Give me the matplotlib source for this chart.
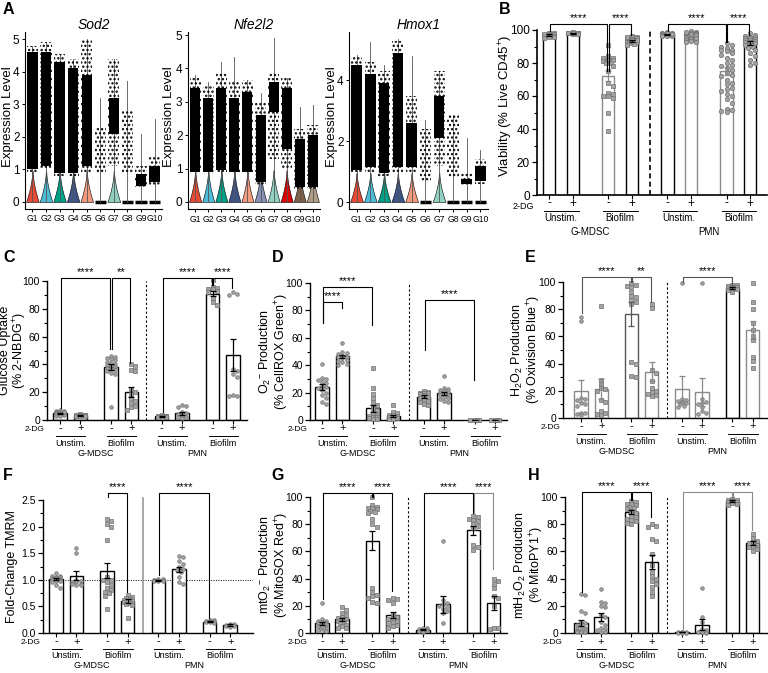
import numpy as np
import matplotlib
matplotlib.use('Agg')
import matplotlib.pyplot as plt
from matplotlib.patches import Rectangle

plt.rcParams['font.family'] = ['Liberation Sans', 'DejaVu Sans']
plt.rcParams['mathtext.fontset'] = 'custom'
plt.rcParams['mathtext.rm'] = 'Liberation Sans'
plt.rcParams['mathtext.it'] = 'Liberation Sans:italic'
plt.rcParams['mathtext.bf'] = 'Liberation Sans:bold'
plt.rcParams['hatch.linewidth'] = 1.1

W, H = 768, 673

# ---------------- panel A data (violin plots) ----------------
groups = ['G1', 'G2', 'G3', 'G4', 'G5', 'G6', 'G7', 'G8', 'G9', 'G10']
npg = ['#E64B35', '#4DBBD5', '#00A087', '#3C5488', '#F39B7F',
       '#8491B4', '#91D1C2', '#DC0000', '#7E6148', '#B09C85']

# dense part of the dot cloud (lo, hi), sparse part (lo, hi), max value, has a coloured base
sod2_dense = [(1.0, 4.6), (1.1, 4.6), (0.9, 4.3), (0.9, 4.1), (1.1, 3.9),
              None, (2.1, 3.2), None, (0.5, 0.85), (0.6, 1.1)]
sod2_sparse = [(0.9, 4.8), (1.0, 4.9), (0.8, 4.55), (0.8, 4.4), (0.9, 5.0),
               (0.9, 2.3), (1.1, 4.4), (0.9, 2.8), (0.45, 1.1), (0.5, 1.4)]
sod2_max = [4.8, 4.9, 4.55, 4.4, 5.0, 3.2, 4.4, 3.7, 2.1, 2.55]
sod2_base = [1, 1, 1, 1, 1, 0, 1, 0, 0, 0]

nfe_dense = [(0.9, 3.4), (0.9, 3.1), (0.95, 3.4), (0.9, 3.1), (0.9, 3.3),
             (0.6, 2.6), (2.7, 3.6), (1.6, 3.4), (0.45, 1.9), (0.45, 2.0)]
nfe_sparse = [(0.85, 3.75), (0.85, 3.5), (0.9, 3.9), (0.85, 3.6), (0.85, 3.65),
              (0.5, 3.0), (1.3, 3.9), (1.0, 3.7), (0.4, 2.2), (0.4, 2.3)]
nfe_max = [3.8, 3.6, 4.2, 4.35, 3.65, 3.25, 4.9, 3.7, 2.85, 2.9]
nfe_base = [1, 1, 1, 1, 1, 1, 1, 1, 1, 1]

hmox_dense = [(1.05, 4.5), (1.15, 4.2), (0.95, 3.9), (1.15, 4.9), (1.15, 2.6),
              None, (2.1, 3.5), None, (0.6, 0.75), (0.7, 1.2)]
hmox_sparse = [(0.95, 4.8), (1.0, 4.6), (0.85, 4.3), (1.0, 5.3), (1.0, 3.5),
               (0.7, 2.4), (1.2, 4.3), (0.8, 2.9), (0.55, 1.0), (0.6, 1.4)]
hmox_max = [4.85, 5.25, 4.5, 5.35, 4.8, 2.7, 4.3, 2.85, 2.1, 1.7]
hmox_base = [1, 1, 1, 1, 1, 0, 1, 0, 0, 0]

# ---------------- panels B-H data (bar + dot plots) ----------------
pos = [0, 1, 2.5, 3.5, 5, 6, 7.5, 8.5]
signs = ['-', '+', '-', '+', '-', '+', '-', '+']
stim_labels = ['Unstim.', 'Biofilm', 'Unstim.', 'Biofilm']
cell_labels = ['G-MDSC', 'PMN']

b_mean = [97, 98, 72, 93.5, 97.5, 96.5, 75, 92]
b_sem = [0.4, 0.2, 3.0, 0.5, 0.3, 0.4, 2.3, 1.2]
b_pts = [
    [98.2, 98, 97.6, 97.3, 97, 96.8, 96.5, 96.2, 96, 95.6, 95.2, 97.8],
    [98.6, 98.4, 98.2, 98, 97.9, 97.7, 97.5, 98.1],
    [91, 84, 83, 83, 82, 82, 81, 80, 80, 78, 75, 68, 66, 62, 61, 60, 60, 59, 50, 39],
    [96.5, 96, 95.5, 95, 95, 94.5, 94, 94, 93.5, 93, 93, 92.5, 92, 91.5, 91, 95.8, 94.2],
    [98.6, 98.2, 98, 97.8, 97.6, 97.4, 97.2, 97, 96.8, 96.6, 96.4, 96.2, 97.9, 97.3],
    [99.2, 98.8, 98.4, 98, 97.8, 97.5, 97.2, 97, 96.6, 96.3, 96, 95.7, 95.4, 95,
     94.6, 94.2, 93.8, 93.4, 93, 92.6, 98.6, 97.6, 96.8, 95.2],
    [92, 91, 90, 89, 88, 88, 87, 86, 85, 83, 82, 80, 79, 78, 77, 76, 74, 73, 72, 70,
     68, 67, 65, 64, 63, 61, 60, 58, 56, 52, 51.5, 51, 50.5],
    [98, 97.2, 96.5, 96, 95.8, 95.4, 95, 94.6, 94.2, 93.8, 93.4, 93, 92.5, 92, 91,
     90, 89, 88, 86, 84, 82, 80, 79],
]

c_mean = [4.8, 3.3, 38, 20, 2.7, 4.8, 91, 47]
c_sem = [0.4, 0.2, 2.2, 3.5, 0.3, 1.1, 2.0, 11.5]
c_pts = [
    [7, 6.5, 6.2, 6, 5.5, 5.2, 5, 4.8, 4.5, 4.2, 4, 3.8, 3.5, 3.2, 3, 5.8],
    [4, 3.8, 3.6, 3.4, 3.3, 3.1, 3, 2.8, 2.6],
    [46, 45, 44.5, 44, 43, 42, 41, 40, 39.5, 39, 38, 37.5, 37, 36, 35, 34, 33, 9],
    [40, 39, 36, 35, 22, 20, 19, 16, 14, 12, 10, 9, 7.5],
    [3.5, 3.2, 3, 2.8, 2.6, 2.3, 2.1, 1.9],
    [10.5, 10, 9.5, 6, 5, 4, 3, 2.5, 2, 1.5],
    [101, 96, 95, 94.5, 94, 93, 92, 88, 85, 83],
    [92, 91, 90, 37, 35, 33, 31, 18, 17.5, 17],
]

d_mean = [24, 46.5, 8.5, 3, 17, 19.5, 0.2, 0.2]
d_sem = [2.4, 1.2, 2.8, 1.0, 0.9, 1.2, 0.05, 0.05]
d_pts = [
    [41, 31, 30, 29, 28, 27, 25, 24, 23, 22, 20, 18, 16, 13, 12],
    [56, 50, 49, 48, 47, 46, 46, 45, 44, 43, 42, 41, 40],
    [38, 23, 19, 16, 13, 11, 9, 7, 5, 4, 3, 2.5, 2, 1.5, 1, 0.5],
    [11, 6, 5, 4, 3.5, 3, 2.5, 2, 1.5, 1, 0.5],
    [21, 20.5, 20, 20, 19.5, 19, 18, 17, 16, 15, 14, 13, 12, 11],
    [32, 23, 22.5, 22, 21, 20.5, 20, 19, 18.5, 18, 17, 16, 15, 14, 13],
    [0.3, 0.2, 0.2, 0.1],
    [0.3, 0.2, 0.2, 0.1],
]

e_mean = [20, 21.5, 76.5, 34, 21, 19, 95.5, 64.5]
e_sem = [8, 7.5, 8.5, 7, 10, 10.5, 0.6, 6.5]
e_pts = [
    [74, 71, 15, 14, 13, 11, 10, 9, 4, 3.5, 3, 2.5],
    [82, 28, 25, 22, 21, 20, 13, 12, 5, 3.5, 3, 2.5],
    [99, 98, 97, 96, 93, 90, 89, 87, 85, 84, 41, 40, 31, 30],
    [84, 81, 35, 33, 27, 22, 20, 19, 18, 17, 16],
    [99, 14, 13, 12.5, 12, 11, 10, 9, 8],
    [99, 14, 12, 11, 10, 8, 5, 4, 3],
    [98, 97.5, 97, 96.5, 96, 95.5, 95, 94.5, 94, 93],
    [99, 85, 80, 70, 65, 60, 57, 45, 42, 37],
]

f_mean = [1.02, 1.08, 1.17, 0.6, 0.99, 1.2, 0.21, 0.15]
f_sem = [0.02, 0.09, 0.14, 0.04, 0.01, 0.05, 0.01, 0.01]
f_pts = [
    [1.12, 1.08, 1.07, 1.06, 1.05, 1.04, 1.03, 1.02, 1.01, 1.0, 1.0, 0.99, 0.98,
     0.97, 0.95, 0.9, 0.85],
    [1.6, 1.5, 1.0, 0.98, 0.96, 0.95, 0.93, 0.92, 0.91, 0.9],
    [2.15, 2.1, 2.05, 2.0, 1.75, 1.05, 1.0, 1.0, 0.95, 0.9, 0.85, 0.8, 0.78, 0.75,
     0.7, 0.45],
    [0.72, 0.68, 0.66, 0.64, 0.62, 0.6, 0.6, 0.58, 0.56, 0.55, 0.52, 0.28],
    [1.02, 1.01, 1.0, 1.0, 0.99, 0.99, 0.98, 0.98, 0.97],
    [1.45, 1.42, 1.35, 1.3, 1.25, 1.2, 1.18, 1.15, 1.05, 0.95, 0.92],
    [0.25, 0.24, 0.23, 0.22, 0.22, 0.21, 0.2, 0.19],
    [0.17, 0.16, 0.15, 0.15, 0.14, 0.13, 0.12],
]

g_mean = [7, 10, 68, 13, 2.5, 21, 75.5, 22]
g_sem = [1.1, 1.2, 7, 2.3, 0.5, 6, 3.5, 5]
g_pts = [
    [22, 10, 9, 8.5, 8, 7.5, 7, 6.5, 6, 5, 5, 4, 3, 2.5, 2, 1.5],
    [19, 17, 15, 13, 12, 11, 10, 10, 9, 8, 7, 6, 5, 4, 3.5],
    [100, 94, 93, 92, 92, 91, 90, 89, 88, 84, 80, 78, 33, 30, 28, 27, 26, 23, 22],
    [26, 25, 24, 22, 14, 12, 11, 10, 9, 8, 7, 6, 5, 4],
    [4, 3.5, 3, 2.5, 2, 1.5, 1],
    [68, 24, 22, 21, 20, 19, 18, 16, 15, 7],
    [86, 85, 84, 83, 82, 80, 79, 77, 65, 63, 61],
    [40, 38, 36, 33, 27, 26, 20, 4, 3.5, 3],
]

h_mean = [7.5, 12, 89, 52, 0.5, 6, 97, 66]
h_sem = [2.3, 3, 1.3, 5, 0.1, 4, 0.5, 1.3]
h_pts = [
    [29, 28, 16, 15, 8, 7, 6, 5, 4, 3, 2.5, 2, 1.5, 1, 0.5, 0.5],
    [32, 23, 22, 20, 19, 13, 12, 8, 6, 4, 3, 2, 1, 0.5],
    [97, 96, 95, 95, 94, 93, 92, 91, 90, 88, 86, 85, 84, 83, 82, 81, 80],
    [80, 79, 78, 69, 68, 58, 50, 45, 42, 40, 38, 36, 34, 30, 27],
    [0.8, 0.6, 0.5, 0.4, 0.3, 0.3, 0.2],
    [33, 12, 8, 3, 2, 1, 0.5, 0.3],
    [98.5, 98, 97.5, 97, 96.5, 96, 95.5, 95, 94],
    [73, 70, 68, 67, 66, 65, 64, 63, 62, 60],
]

fig = plt.figure(figsize=(W / 100, H / 100), dpi=100)


def px_axes(l, t, r, b):
    return fig.add_axes([l / W, 1 - b / H, (r - l) / W, (b - t) / H])


def fig_text(x, y, s, **kw):
    fig.text(x / W, 1 - y / H, s, **kw)


# ---------------- violin panels ----------------
def violin_panel(rect, title, ylim, yticks, dense, sparse, vmax, base, ylab_x=-0.08):
    ax = px_axes(*rect)
    ax.set_xlim(0.45, 10.55)
    ax.set_ylim(*ylim)
    for k in range(10):
        x = k + 1
        if base[k]:
            yy = np.linspace(0, 0.95, 40)
            hw = 0.45 * (1 - yy / 0.95) ** 1.7 + 0.02
            ax.fill_betweenx(yy, x - hw, x + hw, facecolor=npg[k],
                             edgecolor='black', lw=0.4, zorder=1)
        else:
            ax.plot([x - 0.42, x + 0.42], [0, 0], color='black', lw=2.5,
                    solid_capstyle='butt', zorder=1)
        ax.plot([x, x], [0, vmax[k]], color='#555555', lw=0.6, zorder=1)
        s = sparse[k]
        ax.add_patch(Rectangle((x - 0.41, s[0]), 0.82, s[1] - s[0], fill=False,
                               hatch='....', lw=0, edgecolor='black', zorder=2))
        d = dense[k]
        if d is not None:
            ax.add_patch(Rectangle((x - 0.38, d[0]), 0.76, d[1] - d[0],
                                   facecolor='black', lw=0, zorder=3))
    for sp in ['top', 'right']:
        ax.spines[sp].set_visible(False)
    for sp in ['left', 'bottom']:
        ax.spines[sp].set_linewidth(0.8)
    ax.set_yticks(yticks)
    ax.set_yticklabels([str(t) for t in yticks], fontsize=8.5)
    ax.set_xticks(range(1, 11))
    ax.set_xticklabels(groups, fontsize=6.2)
    ax.tick_params(length=2.5, width=0.7, pad=1.5)
    ax.set_title(title, fontsize=10, style='italic', pad=1.5)
    ax.set_ylabel('Expression Level', fontsize=9.5)
    ax.yaxis.set_label_coords(ylab_x, 0.52)
    return ax


violin_panel((25, 32.5, 162, 208.8), 'Sod2', (-0.21, 5.2), [0, 1, 2, 3, 4, 5],
             sod2_dense, sod2_sparse, sod2_max, sod2_base)
violin_panel((188, 31.7, 320, 209), 'Nfe2l2', (-0.21, 5.1), [0, 1, 2, 3, 4, 5],
             nfe_dense, nfe_sparse, nfe_max, nfe_base, ylab_x=-0.1)
violin_panel((349, 31.8, 488, 209), 'Hmox1', (-0.23, 5.6), [0, 2, 4],
             hmox_dense, hmox_sparse, hmox_max, hmox_base)


# ---------------- bar panels ----------------
def swarm_offsets(vals, sx, sy, d, lim):
    placed = []
    out = [0.0] * len(vals)
    step = d * 0.55
    for k in np.argsort(vals)[::-1]:
        y = vals[k] * sy
        best, best_cost = 0.0, None
        for n in range(0, 30):
            for c in ([0.0] if n == 0 else [n * step, -n * step]):
                if abs(c) > lim:
                    continue
                cost = sum(max(0.0, d - np.hypot(c - px, y - py)) for px, py in placed)
                if best_cost is None or cost < best_cost:
                    best, best_cost = c, cost
                if cost == 0:
                    break
            if best_cost == 0:
                break
        placed.append((best, y))
        out[k] = best / sx
    return out


def bar_panel(rect, xlim, ylim, major, minor, means, sems, pts, ylabel, ylab_size,
              ylab_dx, brackets, markers, edges, bar_w=0.66, ms=2.6, big=False,
              sep='dash', fmt='{:.0f}', tick_size=7.5, ylab_y=0.5):
    l, t, r, b = rect
    ax = px_axes(l, t, r, b)
    ax.set_xlim(*xlim)
    ax.set_ylim(*ylim)
    wpx, hpx = r - l, b - t
    sx = wpx / (xlim[1] - xlim[0])
    sy = hpx / (ylim[1] - ylim[0])
    ax.bar(pos, means, width=bar_w, facecolor='white', edgecolor=edges,
           linewidth=1.0, zorder=1)
    for k in range(8):
        offs = swarm_offsets(pts[k], sx, sy, ms * 1.45, bar_w * sx * 0.42)
        ax.plot(np.array(offs) + pos[k], pts[k], ls='none', marker=markers[k],
                ms=ms, mfc='#a3a3a3', mec='#707070', mew=0.5, zorder=3,
                clip_on=False)
        ax.errorbar(pos[k], means[k], yerr=sems[k], fmt='none', ecolor=edges[k],
                    elinewidth=0.9, capsize=2.2, capthick=0.9, zorder=4)
    for (i, j, yl, y0, y1, lab, col) in brackets:
        xi, xj = pos[i] + 0.04, pos[j] - 0.04
        ax.plot([xi, xi, xj, xj], [y0, yl, yl, y1], color=col, lw=0.8,
                clip_on=False, zorder=5)
        ax.annotate(lab, xy=((xi + xj) / 2, yl), xytext=(0, 0.5),
                    textcoords='offset points', ha='center', va='bottom',
                    fontsize=8, annotation_clip=False)
    if sep == 'dash':
        ax.axvline(4.25, color='black', lw=1.2 if big else 0.8,
                   ls=(0, (3, 2)) if big else (0, (2, 2)))
    else:
        ax.plot([4.25, 4.25], [0, ylim[1] * 1.012], color='#9a9a9a', lw=1.2,
                clip_on=False)
    for sp in ['top', 'right']:
        ax.spines[sp].set_visible(False)
    for sp in ['left', 'bottom']:
        ax.spines[sp].set_linewidth(1.2 if big else 1.0)
    ax.set_yticks(major)
    ax.set_yticklabels([fmt.format(v) for v in major], fontsize=tick_size)
    ax.set_yticks(minor, minor=True)
    ax.set_xticks(pos)
    ax.set_xticklabels([])
    ax.tick_params(axis='y', which='major', length=3.5, width=0.9, pad=1.5)
    ax.tick_params(axis='y', which='minor', length=2, width=0.8)
    ax.tick_params(axis='x', length=3, width=0.8)
    ax.set_ylabel(ylabel, fontsize=ylab_size, linespacing=1.0)
    ax.yaxis.set_label_coords(ylab_dx / wpx, ylab_y)

    # labels under the axis
    k = 0.72
    small = 7 if big else 6.5
    ax.annotate('2-DG', xy=(0, 0), xycoords='axes fraction',
                xytext=(-3 * k, -(11 if big else 9.5) * k),
                textcoords='offset points', ha='right', va='center',
                fontsize=small - 0.5)
    for p, s in zip(pos, signs):
        ax.annotate(s, xy=(p, 0), xycoords=('data', 'axes fraction'),
                    xytext=(0, -8.5 * k), textcoords='offset points', ha='center',
                    va='center', fontsize=8.5 if big else 8)
    tr = ax.get_xaxis_transform()
    for n in range(4):
        a, c = pos[2 * n], pos[2 * n + 1]
        yf = -15.5 / hpx
        ax.plot([a - 0.2, c + 0.25], [yf, yf], transform=tr, color='black',
                lw=0.7, clip_on=False)
        ax.annotate(stim_labels[n], xy=((a + c) / 2, 0), xycoords=('data', 'axes fraction'),
                    xytext=(0, -23 * k), textcoords='offset points', ha='center',
                    va='center', fontsize=small)
    for n, xc in enumerate([1.75, 6.75]):
        ax.annotate(cell_labels[n], xy=(xc, 0), xycoords=('data', 'axes fraction'),
                    xytext=(0, -(37 if big else 33) * k), textcoords='offset points',
                    ha='center', va='center', fontsize=small)
    return ax


pct_major = [0, 20, 40, 60, 80, 100]
pct_minor = [10, 30, 50, 70, 90]
BK, GR = 'black', '#8a8a8a'

bar_panel((537, 30, 767, 195), (-0.51, 9.21), (0, 100), pct_major, pct_minor,
          b_mean, b_sem, b_pts, 'Viability (% Live CD45$^{+}$)', 9.5, -22,
          [(0, 2, 103.6, 99.5, 75, '****', BK), (2, 3, 103.6, 75, 97, '****', BK),
           (4, 6, 103.6, 99.5, 93, '****', BK), (6, 7, 103.6, 93, 97, '****', BK)],
          ['s'] * 4 + ['o'] * 4, [BK, BK, GR, BK, BK, GR, GR, BK],
          bar_w=0.52, ms=3.2, big=True, tick_size=8.5, ylab_y=0.54)

bar_panel((47, 281, 247, 420), (-0.64, 9.19), (0, 100), pct_major, pct_minor,
          c_mean, c_sem, c_pts, 'Glucose Uptake\n(% 2-NBDG$^{+}$)', 9, -18,
          [(0, 2, 102.5, 8.5, 51, '****', BK), (2, 3, 102.5, 51, 41, '**', BK),
           (4, 6, 102.5, 6, 97, '****', BK), (6, 7, 102.5, 97, 95, '****', BK)],
          ['o', 's', 'o', 's', 's', 'o', 's', 'o'], [BK] * 8)

bar_panel((310, 283, 507, 420), (-0.59, 9.09), (0, 100), pct_major, pct_minor,
          d_mean, d_sem, d_pts, 'O$_2$$^{-}$ Production\n(% CellROX Green$^{+}$)', 9, -19,
          [(0, 1, 86, 71, 82, '****', BK), (0, 2, 97, 71, 69, '****', BK),
           (4, 6, 87.6, 51, 29, '****', BK)],
          ['o', 'o', 's', 's', 's', 'o', 's', 's'], [BK] * 8)

bar_panel((563, 282, 768, 418), (-0.89, 9.26), (0, 100), pct_major, pct_minor,
          e_mean, e_sem, e_pts, 'H$_2$O$_2$ Production\n(% Oxivision Blue$^{+}$)', 9, -20,
          [(0, 2, 104, 77, 100, '****', '#555555'), (2, 3, 104, 100, 85, '**', '#555555'),
           (4, 6, 104, 100, 97, '****', '#555555')],
          ['o', 's', 's', 's', 'o', 'o', 's', 's'],
          [GR, GR, '#555555', GR, GR, GR, BK, GR])

bar_panel((43, 500, 253, 633), (-0.63, 9.61), (0, 2.5), [0, 0.5, 1.0, 1.5, 2.0, 2.5],
          [0.25, 0.75, 1.25, 1.75, 2.25], f_mean, f_sem, f_pts, 'Fold-Change TMRM', 9, -25,
          [(2, 3, 2.63, 2.55, 0.77, '****', BK), (4, 6, 2.63, 1.09, 0.28, '****', BK)],
          ['o', 'o', 's', 's', 'o', 'o', 'o', 'o'], [BK] * 8, sep='solid',
          fmt='{:.1f}')
fig.axes[-1].axhline(1.0, color='black', lw=0.7, ls=(0, (1, 1.5)), zorder=0.5,
                     xmin=0, xmax=1)

bar_panel((310, 497, 507, 633), (-0.59, 9.16), (0, 100), pct_major, pct_minor,
          g_mean, g_sem, g_pts, 'mtO$_2$$^{-}$ Production\n(% MitoSOX Red$^{+}$)', 9, -19,
          [(0, 2, 103, 25, 100, '****', BK), (2, 3, 103, 100, 31, '****', BK),
           (4, 6, 103, 5, 88, '****', BK), (6, 7, 103, 88, 47, '****', GR)],
          ['o', 's', 's', 's', 'o', 'o', 's', 's'], [BK] * 8)

bar_panel((565, 497, 768, 633), (-0.79, 9.26), (0, 100), pct_major, pct_minor,
          h_mean, h_sem, h_pts, 'mtH$_2$O$_2$ Production\n(% MitoPY1$^{+}$)', 9, -19,
          [(0, 2, 103.5, 30, 98, '****', BK), (2, 3, 103.5, 98, 85, '****', BK),
           (4, 6, 103.5, 3, 99, '****', GR), (6, 7, 103.5, 99, 76, '****', GR)],
          ['o', 'o', 's', 's', 'o', 'o', 's', 's'], [BK] * 8)

# panel letters
for lab, x, y in [('A', 3, 10), ('B', 499, 10), ('C', 3, 257), ('D', 272, 257),
                  ('E', 525, 257), ('F', 3, 476), ('G', 271, 476), ('H', 528, 476)]:
    fig_text(x, y, lab, fontsize=11.5, fontweight='bold', ha='left', va='center')

fig.savefig('out.png', dpi=100)
